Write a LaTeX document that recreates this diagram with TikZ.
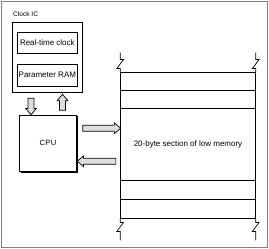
\documentclass[tikz,border=0pt]{standalone}
\usepackage{fontspec}
\setmainfont{Liberation Sans}
\usetikzlibrary{shapes.arrows,shadows,calc}
\begin{document}
\begin{tikzpicture}[x=1pt,y=-1pt,line width=0.9pt,
  box/.style={draw,fill=white,inner sep=0pt},
  shadowbox/.style={box,drop shadow={shadow xshift=1.4pt,shadow yshift=-1.4pt,fill=black,opacity=1}},
  lbl/.style={font=\fontsize{8}{9.6}\selectfont,inner sep=0pt},
  row/.style={draw,inner sep=0pt,minimum width=134.6pt},
  blockarrow/.style={single arrow,draw,line width=0.7pt,fill=black!13,inner sep=2.6pt,
    single arrow head extend=2.4pt,single arrow head indent=0pt,single arrow tip angle=80},
  breakline/.style={line width=0.7pt}
]
\useasboundingbox (0,0) rectangle (269,249);
\node[draw=black!50,line width=1.3pt,inner sep=0pt,minimum width=266pt,minimum height=246pt] (frame) at (134.25,124.25) {};

% Clock IC
\node[lbl,font=\fontsize{6.6}{8}\selectfont,anchor=base west] (clocklbl) at (12.7,16.6) {Clock IC};
\node[shadowbox,minimum width=70pt,minimum height=69.5pt] (clock) at (47,57.25) {};
\node[box,lbl,minimum width=60.7pt,minimum height=20.7pt] (rtc) at (47.35,42.65) {Real-time clock};
\node[box,lbl,minimum width=60.7pt,minimum height=21.7pt] (pram) at (47.35,75.15) {Parameter RAM};

% CPU
\node[shadowbox,lbl,font=\fontsize{7.6}{9}\selectfont,minimum width=57.4pt,minimum height=56.7pt] (cpu) at (48,143.35) {C\kern0.4pt P\kern0.4pt U};

% memory rows
\node[row,minimum height=17.3pt] (r1) at (188,81.35) {};
\node[row,minimum height=18.3pt] (r2) at (188,99.15) {};
\node[row,lbl,minimum height=72pt] (mem) at (188,144.3) {20-byte section of low memory};
\node[row,minimum height=19pt] (r4) at (188,189.8) {};
\node[row,minimum height=19pt] (r5) at (188,208.8) {};

% breaks
\draw[breakline] (r1.north west) -- ++(0,-3.7) -- ++(-3.4,0) -- ++(6.7,-9) -- ++(-3.3,0) -- ++(0,-7);
\draw[breakline] (r1.north east) -- ++(0,-3.7) -- ++(-3.4,0) -- ++(6.7,-9) -- ++(-3.3,0) -- ++(0,-7);
\draw[breakline] (r5.south west) -- ++(0,3.7) -- ++(3.3,0) -- ++(-6.7,9) -- ++(3.4,0) -- ++(0,9);
\draw[breakline] (r5.south east) -- ++(0,3.7) -- ++(3.3,0) -- ++(-6.7,9) -- ++(3.4,0) -- ++(0,9);

% block arrows
\node[blockarrow,minimum height=16.5pt,shape border rotate=270] (down) at (31,104.8) {};
\node[blockarrow,minimum height=16pt,shape border rotate=90] (up) at (62.5,104) {};
\node[blockarrow,minimum height=38pt,shape border rotate=0] (right) at (100,128.3) {};
\node[blockarrow,minimum height=38.7pt,shape border rotate=180] (left) at (98.3,161.3) {};
\end{tikzpicture}
\end{document}
